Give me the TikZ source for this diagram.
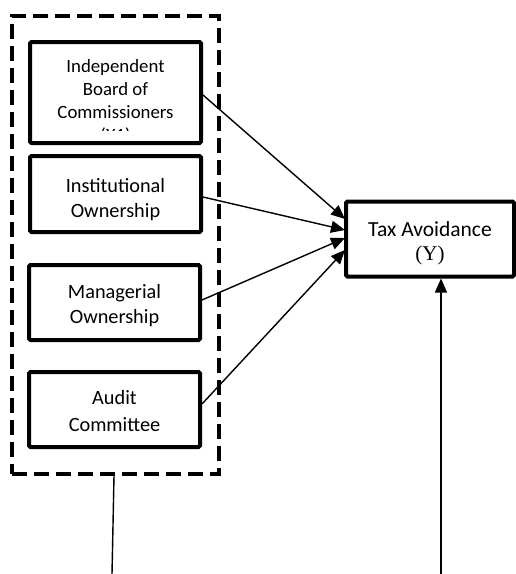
\documentclass[tikz,border=0pt]{standalone}
\usepackage{fontspec}
\setmainfont{Carlito}
\newfontfamily\serifY{Liberation Serif}
\usetikzlibrary{arrows.meta}
\begin{document}
\begin{tikzpicture}[x=1pt,y=-1pt,
  boxstyle/.style={draw, line width=4pt, rounded corners=1.5pt, inner sep=0pt, minimum width=171pt},
  grp/.style={draw, line width=4pt, dash pattern=on 15pt off 7pt, inner sep=0pt, minimum width=207pt, minimum height=458pt},
  conn/.style={line width=1.4pt, -{Triangle[length=14pt,width=12pt]}},
  plain/.style={line width=1.4pt}
]
\useasboundingbox (0,0) rectangle (516,574);
% group
\node[grp] (g) at (115.5,245) {};
% text clipped inside boxes
\begin{scope}
\clip (30,42) rectangle (201,130);
\node[align=center, font=\fontsize{18.8}{23}\selectfont] at (115.5,102) {Independent\\Board of\\Commissioners\\(X1)};
\end{scope}
\node[align=center, font=\fontsize{20.3}{25}\selectfont] at (115.5,199.5) {Institutional\\Ownership};
\begin{scope}
\clip (29,265) rectangle (200,327);
\node[align=center, font=\fontsize{20.3}{25}\selectfont] at (114.5,305.5) {Managerial\\Ownership};
\end{scope}
\node[align=center, font=\fontsize{20.3}{27}\selectfont] at (114.5,411.5) {Audit\\Committee};
% boxes
\node[boxstyle, minimum height=101pt] (b1) at (115.5,92.5) {};
\node[boxstyle, minimum height=76pt] (b2) at (115.5,194) {};
\node[boxstyle, minimum height=75pt] (b3) at (114.5,302.5) {};
\node[boxstyle, minimum height=75pt] (b4) at (114.5,409.5) {};
\node[boxstyle, minimum width=168pt, minimum height=75pt, align=center] (y) at (430,239) {};
\node[align=center, font=\fontsize{21.5}{25}\selectfont] at (430,243) {Tax Avoidance\\[-1pt]{\serifY\fontsize{21}{25}\selectfont(Y)}};
% connectors
\coordinate (t1) at (345,219);
\coordinate (t2) at (345,230);
\coordinate (t3) at (345,238);
\coordinate (t4) at (345,250);
\draw[conn] (b1.east |- 0,95) -- (t1);
\draw[conn] (b2.east |- 0,197) -- (t2);
\draw[conn] (b3.east |- 0,300) -- (t3);
\draw[conn] (b4.east |- 0,404) -- (t4);
\coordinate (bl) at (112,574);
\coordinate (br) at (441,574);
\draw[plain] (g.south -| 114,0) -- (bl);
\draw[conn] (br) -- (y.south -| 441,0);
\end{tikzpicture}
\end{document}
